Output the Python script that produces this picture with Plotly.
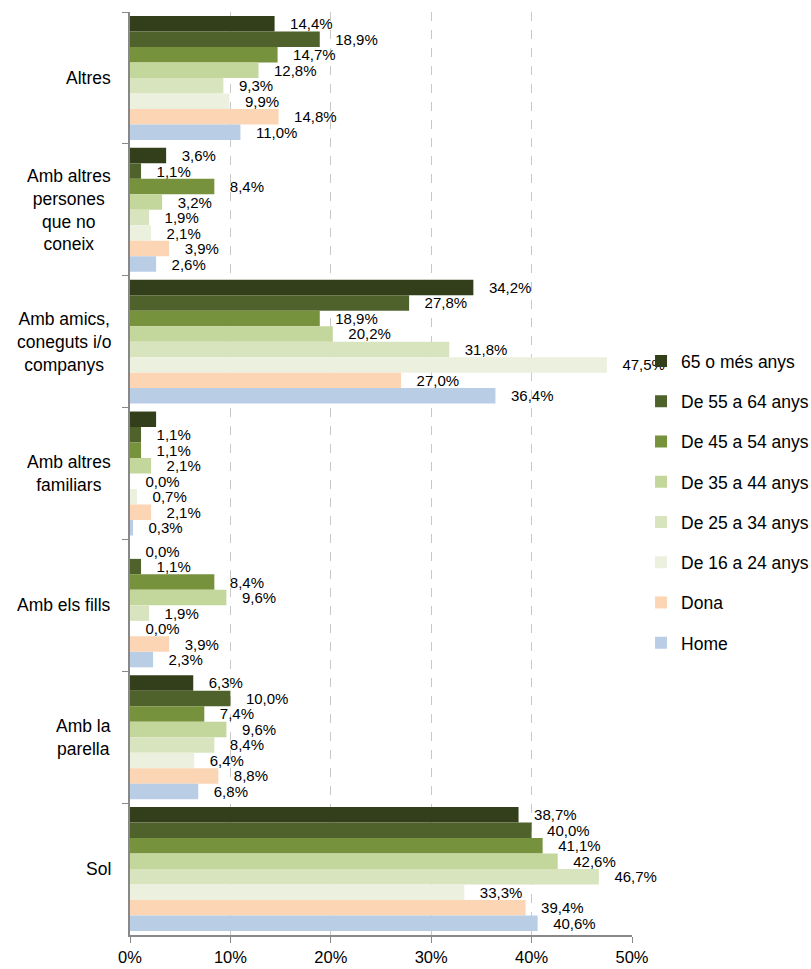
import plotly.graph_objects as go

categories = ["Altres", "Amb altres persones que no coneix", "Amb amics, coneguts i/o companys",
              "Amb altres familiars", "Amb els fills", "Amb la parella", "Sol"]
category_labels = ["Altres", "Amb altres<br>persones<br>que no<br>coneix", "Amb amics,<br>coneguts i/o<br>companys",
                   "Amb altres<br>familiars", "Amb els fills", "Amb la<br>parella", "Sol"]

series_names = ["65 o més anys", "De 55 a 64 anys", "De 45 a 54 anys", "De 35 a 44 anys",
                "De 25 a 34 anys", "De 16 a 24 anys", "Dona", "Home"]

v_65 = [14.4, 3.6, 34.2, 2.6, 0.0, 6.3, 38.7]
v_55_64 = [18.9, 1.1, 27.8, 1.1, 1.1, 10.0, 40.0]
v_45_54 = [14.7, 8.4, 18.9, 1.1, 8.4, 7.4, 41.1]
v_35_44 = [12.8, 3.2, 20.2, 2.1, 9.6, 9.6, 42.6]
v_25_34 = [9.3, 1.9, 31.8, 0.0, 1.9, 8.4, 46.7]
v_16_24 = [9.9, 2.1, 47.5, 0.7, 0.0, 6.4, 33.3]
v_dona = [14.8, 3.9, 27.0, 2.1, 3.9, 8.8, 39.4]
v_home = [11.0, 2.6, 36.4, 0.3, 2.3, 6.8, 40.6]

# labels hidden in the original (65+ / Amb altres familiars has no label)
hidden_labels = {(0, 3)}

series_values = [v_65, v_55_64, v_45_54, v_35_44, v_25_34, v_16_24, v_dona, v_home]
colors = ["#323f1a", "#4f622b", "#76923c", "#c3d69b", "#d7e4bd", "#ebf1de", "#fcd5b5", "#b9cde5"]

FONT = "Liberation Sans, Arial, sans-serif"
NB = "\u00a0"

fig = go.Figure()
for si, (name, vals, col) in enumerate(zip(series_names, series_values, colors)):
    texts = []
    for ci, v in enumerate(vals):
        if (si, ci) in hidden_labels:
            texts.append("")
        else:
            texts.append(NB * 3 + f"{v:.1f}".replace(".", ",") + "%")
    fig.add_trace(go.Bar(
        y=categories, x=vals, orientation="h", name=name,
        marker=dict(color=col, line=dict(width=0)),
        text=texts, textposition="outside", textfont=dict(size=15, color="#000000", family=FONT),
        constraintext="none", cliponaxis=False, legendgroup=name,
        hoverinfo="x+name",
    ))

for cat, lab in zip(categories, category_labels):
    fig.add_annotation(x=-0.034, xref="paper", y=cat, yref="y", text=lab, showarrow=False,
                       xanchor="right", yanchor="middle", align="center",
                       font=dict(size=17.5, color="#000000", family=FONT))

fig.update_layout(
    width=811, height=969,
    margin=dict(l=130, r=179, t=12, b=34, autoexpand=False),
    plot_bgcolor="white", paper_bgcolor="white",
    barmode="group", bargap=0.06, bargroupgap=0,
    font=dict(family=FONT, size=16, color="#000000"),
    showlegend=True,
    legend=dict(x=1.018, y=0.469, xanchor="left", yanchor="middle", tracegroupgap=14.5,
                font=dict(size=17.5, family=FONT), bgcolor="rgba(0,0,0,0)", itemwidth=30),
    xaxis=dict(range=[0, 50], tickvals=[0, 10, 20, 30, 40, 50],
               ticktext=["0%", "10%", "20%", "30%", "40%", "50%"],
               showgrid=True, gridcolor="#c8c8c8", griddash="dash", gridwidth=1,
               showline=True, linecolor="#888888", linewidth=2,
               ticks="outside", ticklen=6, tickcolor="#888888",
               zeroline=False, tickfont=dict(size=16.5)),
    yaxis=dict(autorange="reversed", type="category", categoryorder="array", categoryarray=categories,
               showticklabels=False, showline=True, linecolor="#888888", linewidth=2,
               ticks="outside", tickson="boundaries", ticklen=6, tickcolor="#888888",
               showgrid=False, zeroline=False),
)

fig.write_html("out.html", config={"displayModeBar": False},
               post_script="document.body.style.margin='0px';document.body.style.overflow='hidden';")
